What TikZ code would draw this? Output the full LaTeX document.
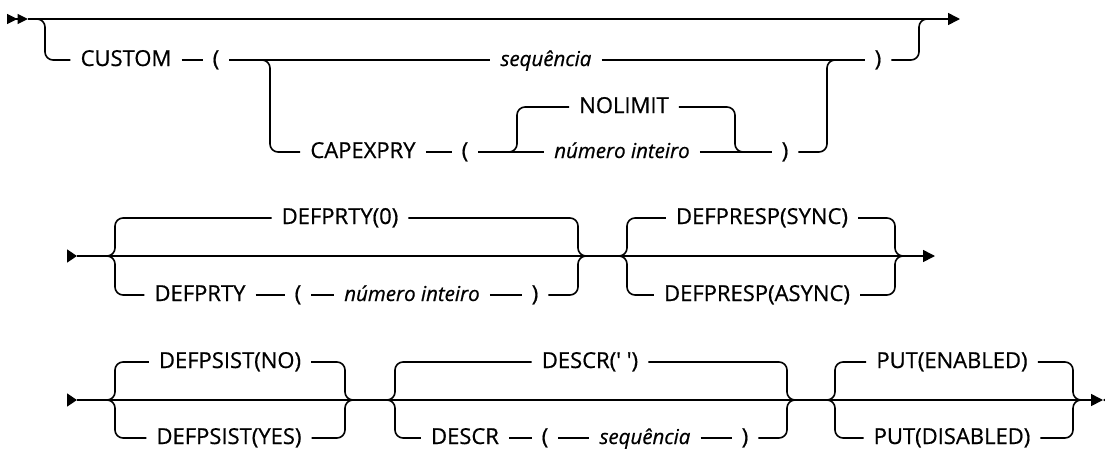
\documentclass[tikz,border=0pt]{standalone}
\usepackage{fontspec}
\setmainfont{Open Sans}[FakeBold=0.6]
\usetikzlibrary{arrows.meta}
\begin{document}
\begin{tikzpicture}[x=1pt,y=-1pt,
  kw/.style={inner xsep=10pt,inner ysep=0pt,text height=12pt,text depth=0pt,font=\fontsize{22}{26}\selectfont},
  var/.style={kw,font=\fontsize{20.5}{24}\selectfont\itshape},
  rail/.style={line width=1.6pt,rounded corners=8pt},
  fin/.style={-{Triangle[length=12pt,width=12pt]}},
  enter/.style={line width=1.6pt,-{Triangle[length=10pt,width=13pt]}}
]
\path[use as bounding box,fill=white] (0,0) rectangle (1105,453);
% row 1
\coordinate (r1in) at (7,19); \coordinate (r1a) at (28,19); \coordinate (r1out) at (960,19);
\coordinate (b1l) at (45,19); \coordinate (b1r) at (919,19); \coordinate (b1r2) at (930,19);
\coordinate (b2l) at (270,60); \coordinate (b2r) at (827,60); \coordinate (b2r2) at (840,60);
\coordinate (b3l) at (517,152); \coordinate (b3r) at (735,152); \coordinate (b3r2) at (745,152);
\node[kw]  (custom) at (126,60)  {CUSTOM};
\node[kw]  (lp1)    at (216,60)  {(};
\node[var] (seq1)   at (546,60)  {sequência};
\node[kw]  (rp1)    at (878,60)  {)};
\node[kw]  (capex)  at (363,152) {CAPEXPRY};
\node[kw]  (lp2)    at (465,152) {(};
\node[kw]  (nolim)  at (624,107) {NOLIMIT};
\node[var] (num1)   at (622,152) {número inteiro};
\node[kw]  (rp2)    at (785,152) {)};
\draw[line width=1.6pt,-{Triangle[length=10.5pt,width=10pt,sep=0pt]Triangle[length=10.5pt,width=10pt]}] (r1in) -- (r1a);
\draw[rail,fin] (r1a) -- (r1out);
\draw[rail] (r1a) -- (b1l) |- (custom);
\draw[rail] (custom) -- (lp1); \draw[rail] (lp1) -- (seq1); \draw[rail] (seq1) -- (rp1);
\draw[rail] (rp1) -| (b1r) -- (b1r2);
\draw[rail] (lp1) -- (b2l) |- (capex);
\draw[rail] (capex) -- (lp2); \draw[rail] (lp2) -- (num1); \draw[rail] (num1) -- (rp2);
\draw[rail] (rp2) -| (b2r) -- (b2r2);
\draw[rail] (lp2) -- (b3l) |- (nolim);
\draw[rail] (nolim) -| (b3r) -- (b3r2);
% row 2
\coordinate (r2in) at (67,256); \coordinate (r2a) at (77,256); \coordinate (r2out) at (935,256);
\coordinate (g1l) at (115,256); \coordinate (g1r) at (578,256); \coordinate (g1r2) at (590,256);
\coordinate (g2l0) at (615,256); \coordinate (g2l) at (627,256); \coordinate (g2r) at (895,256); \coordinate (g2r2) at (907,256);
\node[kw]  (dp0)    at (340,218) {DEFPRTY(0)};
\node[kw]  (dp)     at (200,295) {DEFPRTY};
\node[kw]  (lp3)    at (298,295) {(};
\node[var] (num2)   at (412,295) {número inteiro};
\node[kw]  (rp3)    at (535,295) {)};
\node[kw]  (dsync)  at (762,218) {DEFPRESP(SYNC)};
\node[kw]  (dasync) at (757,295) {DEFPRESP(ASYNC)};
\draw[enter] (r2in) -- (r2a);
\draw[rail,fin] (r2a) -- (r2out);
\draw[rail] (r2a) -- (g1l) |- (dp0);
\draw[rail] (r2a) -- (g1l) |- (dp);
\draw[rail] (dp) -- (lp3); \draw[rail] (lp3) -- (num2); \draw[rail] (num2) -- (rp3);
\draw[rail] (dp0) -| (g1r) -- (g1r2);
\draw[rail] (rp3) -| (g1r) -- (g1r2);
\draw[rail] (g2l0) -- (g2l) |- (dsync);
\draw[rail] (g2l0) -- (g2l) |- (dasync);
\draw[rail] (dsync) -| (g2r) -- (g2r2);
\draw[rail] (dasync) -| (g2r) -- (g2r2);
% row 3
\coordinate (r3in) at (67,400); \coordinate (r3a) at (77,400); \coordinate (r3out) at (1103,400); \coordinate (r3x) at (1116,400);
\coordinate (g3l) at (115,400); \coordinate (g3r) at (345,400); \coordinate (g3r2) at (357,400);
\coordinate (g4l0) at (383,400); \coordinate (g4l) at (395,400); \coordinate (g4r) at (787,400); \coordinate (g4r2) at (799,400);
\coordinate (g5l0) at (823,400); \coordinate (g5l) at (835,400); \coordinate (g5r) at (1073,400); \coordinate (g5r2) at (1085,400);
\node[kw]  (dno)    at (230,362) {DEFPSIST(NO)};
\node[kw]  (dyes)   at (229,438) {DEFPSIST(YES)};
\node[kw]  (dblank) at (590,362) {DESCR(\textquotesingle\ \textquotesingle)};
\node[kw]  (descr)  at (465,438) {DESCR};
\node[kw]  (lp4)    at (545,438) {(};
\node[var] (seq2)   at (645,438) {sequência};
\node[kw]  (rp4)    at (745,438) {)};
\node[kw]  (pen)    at (952,362) {PUT(ENABLED)};
\node[kw]  (pdis)   at (952,438) {PUT(DISABLED)};
\draw[enter] (r3in) -- (r3a);
\draw[rail,fin] (r3a) -- (r3out);
\draw[enter] (r3x) -- (r3out);
\draw[rail] (r3a) -- (g3l) |- (dno);
\draw[rail] (r3a) -- (g3l) |- (dyes);
\draw[rail] (dno) -| (g3r) -- (g3r2);
\draw[rail] (dyes) -| (g3r) -- (g3r2);
\draw[rail] (g4l0) -- (g4l) |- (dblank);
\draw[rail] (g4l0) -- (g4l) |- (descr);
\draw[rail] (descr) -- (lp4); \draw[rail] (lp4) -- (seq2); \draw[rail] (seq2) -- (rp4);
\draw[rail] (dblank) -| (g4r) -- (g4r2);
\draw[rail] (rp4) -| (g4r) -- (g4r2);
\draw[rail] (g5l0) -- (g5l) |- (pen);
\draw[rail] (g5l0) -- (g5l) |- (pdis);
\draw[rail] (pen) -| (g5r) -- (g5r2);
\draw[rail] (pdis) -| (g5r) -- (g5r2);
\end{tikzpicture}
\end{document}
